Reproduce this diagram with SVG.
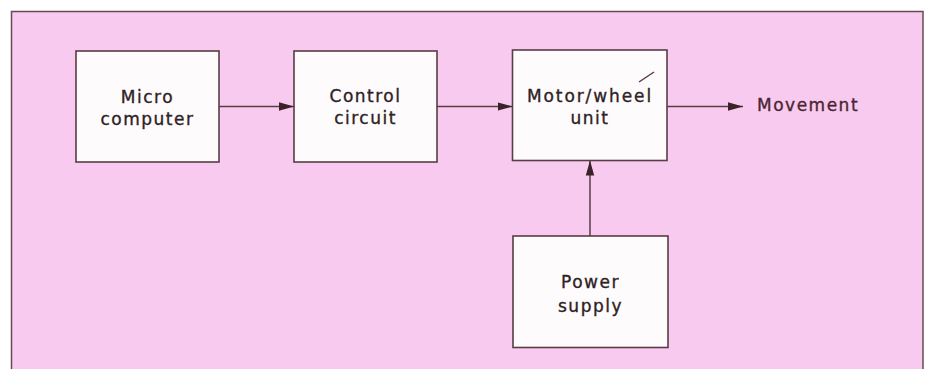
<svg xmlns="http://www.w3.org/2000/svg" width="930" height="369" viewBox="0 0 930 369">
<style>
.box{fill:#fefbfd;stroke:#5a3c44;stroke-width:1.6}
.lbl{font-family:"DejaVu Sans",sans-serif;font-size:17px;letter-spacing:1.5px;fill:#2e2224;stroke:#2e2224;stroke-width:0.35;text-anchor:middle}
.con{stroke:#5a3c44;stroke-width:1.5;fill:none}
</style>
<defs>
<marker id="ah" markerWidth="15" markerHeight="10" refX="15" refY="5" orient="auto" markerUnits="userSpaceOnUse">
<path d="M0,0.8 L15,5 L0,9.2 Z" fill="#3a2226"/>
</marker>
</defs>
<rect x="0" y="0" width="930" height="369" fill="#ffffff"/>
<rect x="11.5" y="11.5" width="911.5" height="370" fill="#f8caf0" stroke="#6a4a52" stroke-width="1.5"/>
<g id="connectors">
<line class="con" x1="219" y1="106.5" x2="294" y2="106.5" marker-end="url(#ah)"/>
<line class="con" x1="437" y1="106.5" x2="512.5" y2="106.5" marker-end="url(#ah)"/>
<line class="con" x1="667" y1="106.5" x2="743" y2="106.5" marker-end="url(#ah)"/>
<line class="con" x1="590" y1="236" x2="590" y2="160.5" marker-end="url(#ah)"/>
</g>
<g id="micro">
<rect class="box" x="76" y="51" width="143" height="111"/>
<text class="lbl" x="147.5" y="103">Micro</text>
<text class="lbl" x="147.5" y="125">computer</text>
</g>
<g id="control">
<rect class="box" x="294" y="51" width="143" height="111"/>
<text class="lbl" x="365.5" y="102">Control</text>
<text class="lbl" x="365.5" y="124">circuit</text>
</g>
<g id="motor">
<rect class="box" x="512.5" y="50" width="154.5" height="110.5"/>
<text class="lbl" x="590" y="102" style="letter-spacing:1.9px">Motor/wheel</text>
<text class="lbl" x="590" y="124">unit</text>
<line x1="639" y1="82" x2="654" y2="72" stroke="#5a3c44" stroke-width="1.5"/>
</g>
<g id="power">
<rect class="box" x="513" y="236" width="155" height="111.5"/>
<text class="lbl" x="590.5" y="288">Power</text>
<text class="lbl" x="590.5" y="312">supply</text>
</g>
<g id="movement">
<text class="lbl" x="757" y="111" style="text-anchor:start;fill:#4a2630;stroke:#4a2630">Movement</text>
</g>
</svg>
